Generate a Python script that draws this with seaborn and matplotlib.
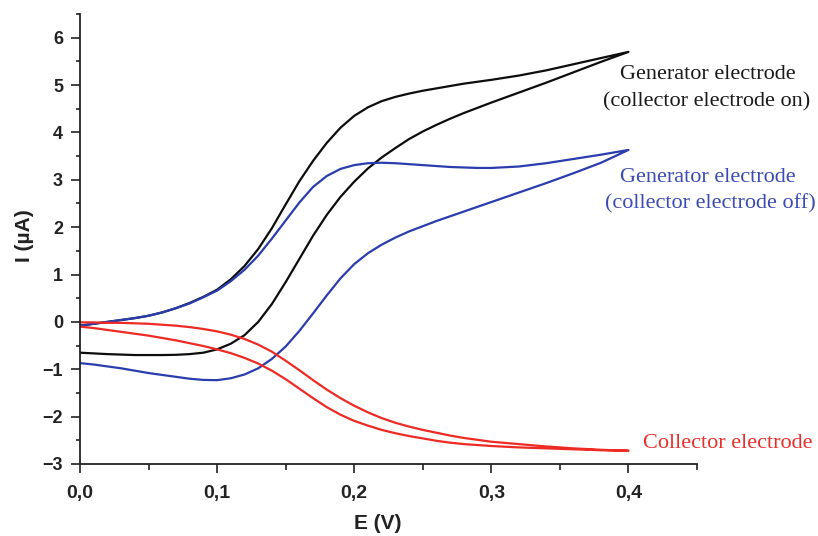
import matplotlib
matplotlib.use("Agg")
import matplotlib.pyplot as plt
from matplotlib.ticker import MultipleLocator, FuncFormatter
import seaborn as sns
import pandas as pd

# Potential grid (V) shared by all sweeps, forward direction
E_grid = [0.00, 0.01, 0.02, 0.03, 0.04, 0.05, 0.06, 0.07, 0.08, 0.09,
          0.10, 0.11, 0.12, 0.13, 0.14, 0.15, 0.16, 0.17, 0.18, 0.19,
          0.20, 0.21, 0.22, 0.23, 0.24, 0.25, 0.26, 0.27, 0.28, 0.29,
          0.30, 0.32, 0.34, 0.36, 0.38, 0.40]

# Generator electrode, collector on (µA)
gen_on_fwd = [-0.08, -0.04, 0.00, 0.04, 0.08, 0.13, 0.20, 0.29, 0.40, 0.53,
              0.68, 0.90, 1.18, 1.54, 1.98, 2.48, 2.97, 3.40, 3.78, 4.10,
              4.35, 4.53, 4.66, 4.75, 4.82, 4.88, 4.93, 4.98, 5.03, 5.07,
              5.11, 5.20, 5.31, 5.44, 5.57, 5.70]
gen_on_rev = [-0.65, -0.665, -0.68, -0.69, -0.70, -0.70, -0.70, -0.695, -0.68, -0.65,
              -0.58, -0.46, -0.28, 0.00, 0.38, 0.84, 1.33, 1.82, 2.26, 2.64,
              2.96, 3.24, 3.47, 3.67, 3.86, 4.02, 4.16, 4.29, 4.41, 4.52,
              4.63, 4.84, 5.05, 5.27, 5.49, 5.70]

# Generator electrode, collector off (µA)
gen_off_fwd = [-0.08, -0.04, 0.00, 0.04, 0.08, 0.13, 0.20, 0.29, 0.39, 0.52,
               0.66, 0.86, 1.10, 1.40, 1.76, 2.14, 2.52, 2.85, 3.08, 3.23,
               3.31, 3.35, 3.36, 3.35, 3.33, 3.31, 3.29, 3.27, 3.26, 3.25,
               3.25, 3.28, 3.35, 3.44, 3.53, 3.63]
gen_off_rev = [-0.87, -0.90, -0.94, -0.98, -1.03, -1.08, -1.12, -1.16, -1.20, -1.225,
               -1.23, -1.19, -1.11, -0.98, -0.78, -0.52, -0.19, 0.18, 0.56, 0.92,
               1.22, 1.45, 1.63, 1.78, 1.91, 2.02, 2.13, 2.23, 2.33, 2.43,
               2.53, 2.73, 2.93, 3.14, 3.36, 3.63]

# Collector electrode (µA)
col_fwd = [-0.01, -0.01, -0.02, -0.02, -0.03, -0.04, -0.06, -0.08, -0.11, -0.15,
           -0.20, -0.27, -0.36, -0.48, -0.63, -0.82, -1.02, -1.23, -1.43, -1.61,
           -1.77, -1.91, -2.03, -2.13, -2.21, -2.28, -2.34, -2.40, -2.45, -2.49,
           -2.53, -2.58, -2.63, -2.67, -2.70, -2.72]
col_rev = [-0.10, -0.13, -0.17, -0.21, -0.25, -0.29, -0.34, -0.39, -0.45, -0.51,
           -0.58, -0.66, -0.76, -0.88, -1.03, -1.21, -1.41, -1.61, -1.80, -1.96,
           -2.09, -2.19, -2.28, -2.35, -2.41, -2.46, -2.51, -2.55, -2.58, -2.60,
           -2.62, -2.65, -2.67, -2.69, -2.71, -2.72]

traces = {
    "gen_on": (gen_on_fwd, gen_on_rev),
    "gen_off": (gen_off_fwd, gen_off_rev),
    "collector": (col_fwd, col_rev),
}
colors = {"gen_on": "#0d0d0d", "gen_off": "#2b3cae", "collector": "#ee2a24"}

rows = []
for name, (fwd, rev) in traces.items():
    # forward sweep 0 -> 0.4 V, then back 0.4 -> 0 V
    for e, i in zip(E_grid, fwd):
        rows.append((name, e, i))
    for e, i in zip(E_grid[::-1], rev[::-1]):
        rows.append((name, e, i))
df = pd.DataFrame(rows, columns=["trace", "E", "I"])

sns.set_style("ticks")
plt.rcParams["font.family"] = ["Liberation Sans", "DejaVu Sans"]

fig = plt.figure(figsize=(8.18, 5.36), dpi=100)
ax = fig.add_axes([80 / 818, 1 - 464 / 536, 617 / 818, 450 / 536])

sns.lineplot(data=df, x="E", y="I", hue="trace", palette=colors, units="trace",
             estimator=None, sort=False, legend=False, linewidth=1.6, ax=ax)

ax.set_xlim(0, 0.45)
ax.set_ylim(-3, 6.5)
ax.xaxis.set_major_locator(MultipleLocator(0.1))
ax.xaxis.set_minor_locator(MultipleLocator(0.05))
ax.yaxis.set_major_locator(MultipleLocator(1))
ax.yaxis.set_minor_locator(MultipleLocator(0.5))
ax.xaxis.set_major_formatter(FuncFormatter(lambda v, p: f"{v:.1f}".replace(".", ",")))
ax.yaxis.set_major_formatter(FuncFormatter(lambda v, p: f"{v:.0f}".replace("-", "\u2212")))

for s in ["top", "right"]:
    ax.spines[s].set_visible(False)
for s in ["left", "bottom"]:
    ax.spines[s].set_linewidth(1.3)
    ax.spines[s].set_color("#222222")

ax.tick_params(which="both", width=1.2, color="#222222")
ax.tick_params(axis="y", which="major", length=6.7, pad=5.5)
ax.tick_params(axis="y", which="minor", length=3.0)
ax.tick_params(axis="x", which="major", length=6.3, pad=8.5)
ax.tick_params(axis="x", which="minor", length=4.3)
for lab in ax.get_yticklabels():
    lab.set_fontsize(13)
    lab.set_fontweight("bold")
    lab.set_color("#222222")
for lab in ax.get_xticklabels():
    lab.set_fontsize(14)
    lab.set_fontweight("bold")
    lab.set_color("#222222")

ax.set_xlabel("E (V)", fontsize=15, fontweight="bold", color="#222222")
ax.set_ylabel("I (\u00b5A)", fontsize=15, fontweight="bold", color="#222222")
ax.xaxis.set_label_coords((378 - 80) / 617, (464 - 514) / 450)
ax.yaxis.set_label_coords((34 - 80) / 617, (464 - 236) / 450)

serif = ["Liberation Serif", "DejaVu Serif"]
txt = dict(family=serif, fontsize=16, ha="center", va="center", clip_on=False)
ax.text(0.4577, 5.22, "Generator electrode", color="#1a1a1a", **txt)
ax.text(0.4570, 4.65, "(collector electrode on)", color="#1a1a1a", **txt)
ax.text(0.4577, 3.04, "Generator electrode", color="#3b4bb5", **txt)
ax.text(0.4595, 2.49, "(collector electrode off)", color="#3b4bb5", **txt)
ax.text(0.4726, -2.56, "Collector electrode", color="#e8302a", **txt)

fig.savefig("out.png", dpi=100)
